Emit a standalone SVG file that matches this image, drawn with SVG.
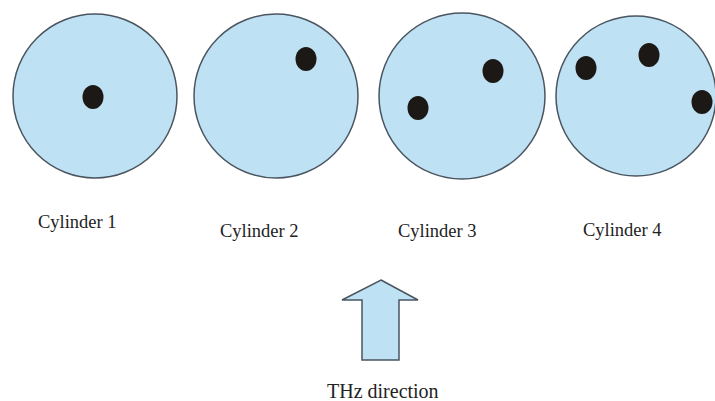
<svg xmlns="http://www.w3.org/2000/svg" width="715" height="401" viewBox="0 0 715 401">
<style>
.cyl{fill:#bfe1f4;stroke:#4a5560;stroke-width:1.5}
.dot{fill:#1c1816}
.lbl{font-family:"Liberation Serif","Times New Roman",serif;font-size:18.5px;fill:#222}
</style>
<rect width="715" height="401" fill="#ffffff"/>
<g id="cylinder1">
<circle class="cyl" cx="95" cy="96" r="82"/>
<ellipse class="dot" cx="93" cy="97" rx="10.5" ry="12"/>
<text class="lbl" x="38" y="228">Cylinder 1</text>
</g>
<g id="cylinder2">
<circle class="cyl" cx="276" cy="96" r="82"/>
<ellipse class="dot" cx="306" cy="59" rx="10.5" ry="12"/>
<text class="lbl" x="220" y="237">Cylinder 2</text>
</g>
<g id="cylinder3">
<circle class="cyl" cx="462" cy="96" r="83"/>
<ellipse class="dot" cx="418" cy="108" rx="10.5" ry="12"/>
<ellipse class="dot" cx="493" cy="71" rx="10.5" ry="12"/>
<text class="lbl" x="398" y="237">Cylinder 3</text>
</g>
<g id="cylinder4">
<circle class="cyl" cx="636" cy="96" r="80"/>
<ellipse class="dot" cx="586" cy="68" rx="10.5" ry="12"/>
<ellipse class="dot" cx="649" cy="55" rx="10.5" ry="12"/>
<ellipse class="dot" cx="702" cy="102" rx="10.5" ry="12"/>
<text class="lbl" x="583" y="236">Cylinder 4</text>
</g>
<g id="thz-arrow">
<polygon class="cyl" points="381,280 418,300 399,300 399,360 362,360 362,300 342,300"/>
<text class="lbl" x="327" y="398" style="font-size:20px">THz direction</text>
</g>
</svg>
